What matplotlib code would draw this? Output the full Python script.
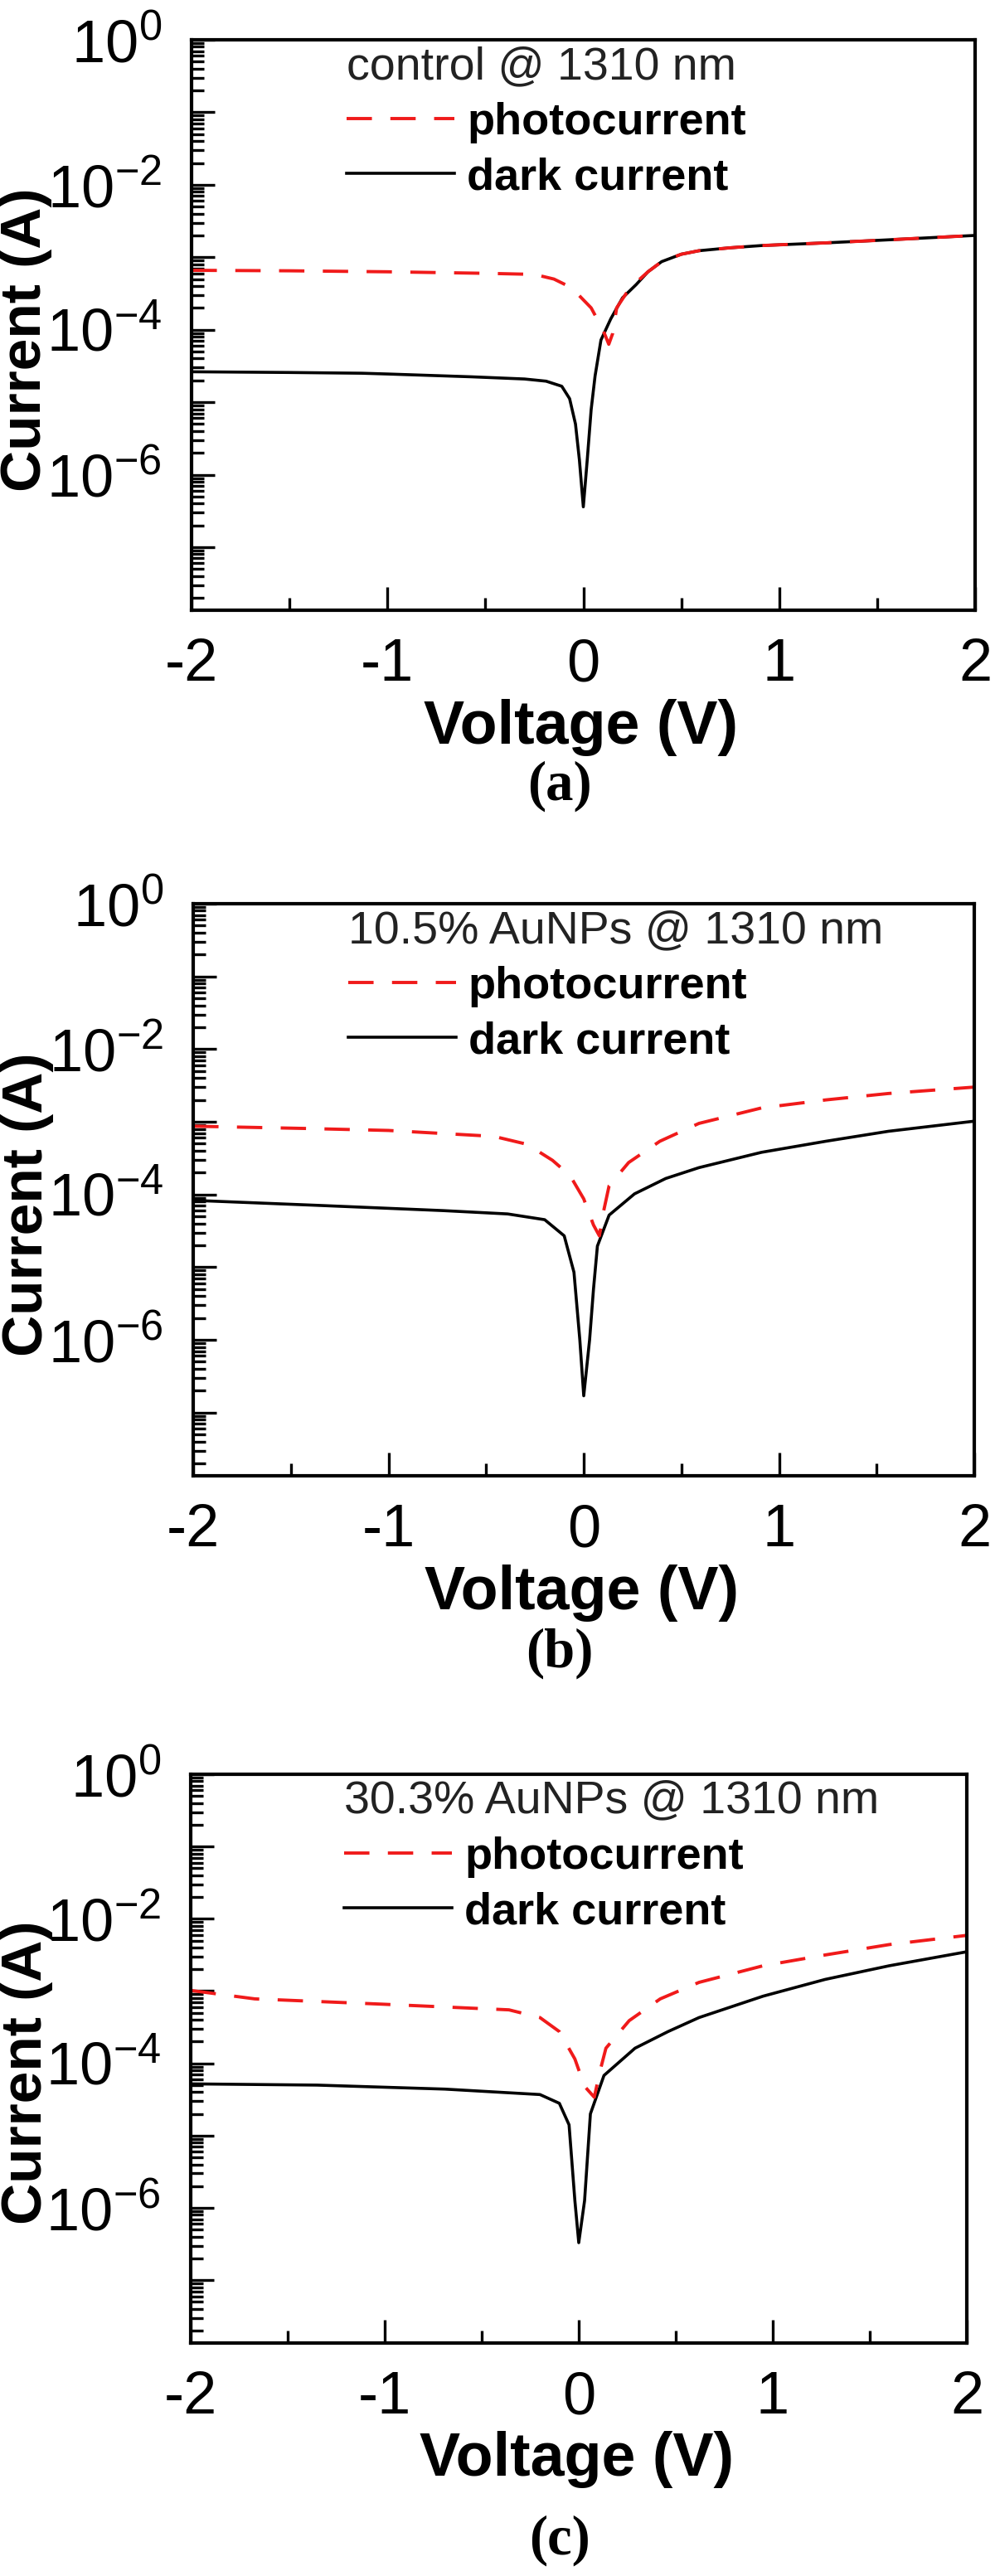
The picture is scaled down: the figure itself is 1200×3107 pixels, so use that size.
import matplotlib
matplotlib.use('Agg')
import matplotlib.pyplot as plt
import numpy as np
from matplotlib.lines import Line2D
from matplotlib.ticker import FixedLocator, FuncFormatter, LogLocator

plt.rcParams['font.family'] = ['Liberation Sans', 'DejaVu Sans']
plt.rcParams['mathtext.fontset'] = 'custom'
plt.rcParams['mathtext.rm'] = 'Liberation Sans'
plt.rcParams['axes.unicode_minus'] = False
plt.rcParams['lines.scale_dashes'] = False

W, H = 1200, 3107
RED = '#f01a1a'

# ---- data (V in volts, I in amps) ----
V_photo_a = [-2.0, -1.5, -1.0, -0.5, -0.25, -0.15, -0.06, 0.04, 0.10, 0.13,
             0.15, 0.17, 0.22, 0.27, 0.33, 0.40, 0.50, 0.59, 0.75, 0.91,
             1.24, 1.56, 2.0]
I_photo_a = [6.6e-4, 6.5e-4, 6.3e-4, 6.0e-4, 5.8e-4, 5.0e-4, 3.8e-4, 2.0e-4,
             1.0e-4, 6.3e-5, 8.9e-5, 2.0e-4, 3.2e-4, 4.5e-4, 6.3e-4, 8.7e-4,
             1.1e-3, 1.23e-3, 1.35e-3, 1.45e-3, 1.58e-3, 1.74e-3, 2.0e-3]
V_dark_a = [-2.0, -1.5, -1.13, -1.0, -0.57, -0.3, -0.19, -0.11, -0.07, -0.04,
            -0.02, 0.0, 0.02, 0.04, 0.06, 0.09, 0.14, 0.20, 0.27, 0.33, 0.40,
            0.50, 0.59, 0.75, 0.91, 1.24, 1.56, 2.0]
I_dark_a = [2.63e-5, 2.57e-5, 2.51e-5, 2.45e-5, 2.24e-5, 2.09e-5, 1.95e-5,
            1.66e-5, 1.12e-5, 5.0e-6, 1.6e-6, 3.6e-7, 1.6e-6, 7.9e-6, 2.3e-5,
            7.2e-5, 1.41e-4, 2.75e-4, 4.2e-4, 6.3e-4, 8.7e-4, 1.1e-3,
            1.23e-3, 1.35e-3, 1.45e-3, 1.58e-3, 1.74e-3, 2.0e-3]

V_photo_b = [-2.0, -1.43, -1.0, -0.46, -0.29, -0.16, -0.07, 0.0, 0.05, 0.08,
             0.10, 0.13, 0.23, 0.39, 0.59, 0.91, 1.24, 1.56, 2.0]
I_photo_b = [8.7e-4, 8.1e-4, 7.6e-4, 6.3e-4, 4.9e-4, 2.95e-4, 1.82e-4, 8.7e-5,
             3.8e-5, 2.7e-5, 5.6e-5, 1.32e-4, 2.75e-4, 5.4e-4, 9.5e-4, 1.55e-3,
             2.0e-3, 2.45e-3, 3.0e-3]
V_dark_b = [-2.0, -1.37, -0.72, -0.39, -0.2, -0.1, -0.05, -0.02, 0.0, 0.03,
            0.05, 0.07, 0.13, 0.26, 0.42, 0.59, 0.91, 1.24, 1.56, 2.0]
I_dark_b = [8.3e-5, 7.1e-5, 6.0e-5, 5.4e-5, 4.5e-5, 2.7e-5, 8.5e-6, 1.0e-6,
            1.7e-7, 1.0e-6, 5.0e-6, 1.95e-5, 5.2e-5, 1.02e-4, 1.66e-4, 2.34e-4,
            3.8e-4, 5.4e-4, 7.4e-4, 1.02e-3]

V_photo_c = [-2.0, -1.67, -1.02, -0.36, -0.2, -0.1, -0.02, 0.03, 0.08, 0.11,
             0.14, 0.26, 0.42, 0.62, 0.95, 1.27, 1.6, 2.0]
I_photo_c = [1.02e-3, 7.8e-4, 6.6e-4, 5.5e-4, 4.3e-4, 2.75e-4, 1.15e-4, 4.8e-5,
             3.4e-5, 7.9e-5, 1.62e-4, 3.9e-4, 7.8e-4, 1.32e-3, 2.24e-3,
             3.16e-3, 4.4e-3, 5.9e-3]
V_dark_c = [-2.0, -1.35, -0.69, -0.2, -0.1, -0.05, -0.02, 0.0, 0.03, 0.06,
            0.13, 0.29, 0.46, 0.62, 0.95, 1.27, 1.6, 2.0]
I_dark_c = [5.2e-5, 5.0e-5, 4.4e-5, 3.7e-5, 2.8e-5, 1.41e-5, 1.26e-6, 3.3e-7,
            1.26e-6, 2.0e-5, 6.8e-5, 1.62e-4, 2.75e-4, 4.3e-4, 8.5e-4,
            1.45e-3, 2.24e-3, 3.5e-3]

TITLES = ['control @ 1310 nm', '10.5% AuNPs @ 1310 nm', '30.3% AuNPs @ 1310 nm']
CAPTIONS = ['(a)', '(b)', '(c)']
X_TICKS = [-2, -1, 0, 1, 2]
X_MINOR = [-1.5, -0.5, 0.5, 1.5]
Y_LIM = (10 ** -7.87, 1.0)

# panel boxes in pixels: left, right, top, bottom
BOXES = [(231, 1176, 48, 736), (233, 1175, 1090, 1780), (230, 1166, 2140, 2826)]
CAPTION_Y = [948, 1994, 3064]


def ylabel_fmt(val, pos):
    e = int(round(np.log10(val)))
    if e % 2:
        return ''
    return r'$\mathregular{10^{%d}}$' % e


def draw_panel(fig, box, title, caption, cap_y, vp, ip, vd, idk):
    l, r, t, b = box
    ax = fig.add_axes([l / W, 1 - b / H, (r - l) / W, (b - t) / H])
    ax.plot(vd, idk, color='black', lw=2.6)
    ax.plot(vp, ip, color=RED, lw=2.8, dashes=(22, 16))
    ax.set_yscale('log')
    ax.set_xlim(-2, 2)
    ax.set_ylim(*Y_LIM)
    ax.xaxis.set_major_locator(FixedLocator(X_TICKS))
    ax.xaxis.set_minor_locator(FixedLocator(X_MINOR))
    ax.yaxis.set_major_locator(LogLocator(base=10, numticks=20))
    ax.yaxis.set_minor_locator(LogLocator(base=10, subs=np.arange(2, 10), numticks=20))
    ax.yaxis.set_major_formatter(FuncFormatter(ylabel_fmt))
    ax.yaxis.set_minor_formatter(FuncFormatter(lambda v, p: ''))
    ax.tick_params(which='both', direction='in', top=False, right=False, width=2.4)
    ax.tick_params(which='major', length=20, labelsize=52)
    ax.tick_params(which='minor', length=11)
    ax.tick_params(axis='x', which='major', pad=24)
    ax.tick_params(axis='y', which='major', pad=26)
    for sp in ax.spines.values():
        sp.set_linewidth(3)

    ax.text(0.497, -0.205, 'Voltage (V)', transform=ax.transAxes, ha='center',
            va='center', fontsize=53, fontweight='bold')
    ax.text(-0.212, 0.475, 'Current (A)', transform=ax.transAxes, ha='center',
            va='center', fontsize=50, fontweight='bold', rotation=90)

    handles = [Line2D([], [], color=RED, lw=2.8, dashes=(22, 16)),
               Line2D([], [], color='black', lw=2.6)]
    leg = ax.legend(handles, ['photocurrent', 'dark current'], title=title,
                    loc='upper left', bbox_to_anchor=(0.198, 0.99), frameon=False,
                    prop={'weight': 'bold', 'size': 39}, title_fontsize=40,
                    handlelength=2.4, handletextpad=0.28, labelspacing=0.3,
                    borderpad=0, borderaxespad=0, alignment='left')
    leg.get_title().set_color('#222222')

    fig.text(675 / W, 1 - cap_y / H, caption, ha='center', va='center',
             fontsize=48, fontweight='bold', family='Liberation Serif')
    return ax


def main():
    fig = plt.figure(figsize=(W / 100, H / 100), dpi=100)
    data = [(V_photo_a, I_photo_a, V_dark_a, I_dark_a),
            (V_photo_b, I_photo_b, V_dark_b, I_dark_b),
            (V_photo_c, I_photo_c, V_dark_c, I_dark_c)]
    for box, title, cap, cy, d in zip(BOXES, TITLES, CAPTIONS, CAPTION_Y, data):
        draw_panel(fig, box, title, cap, cy, *d)
    fig.savefig('out.png', dpi=100)


if __name__ == '__main__':
    main()
